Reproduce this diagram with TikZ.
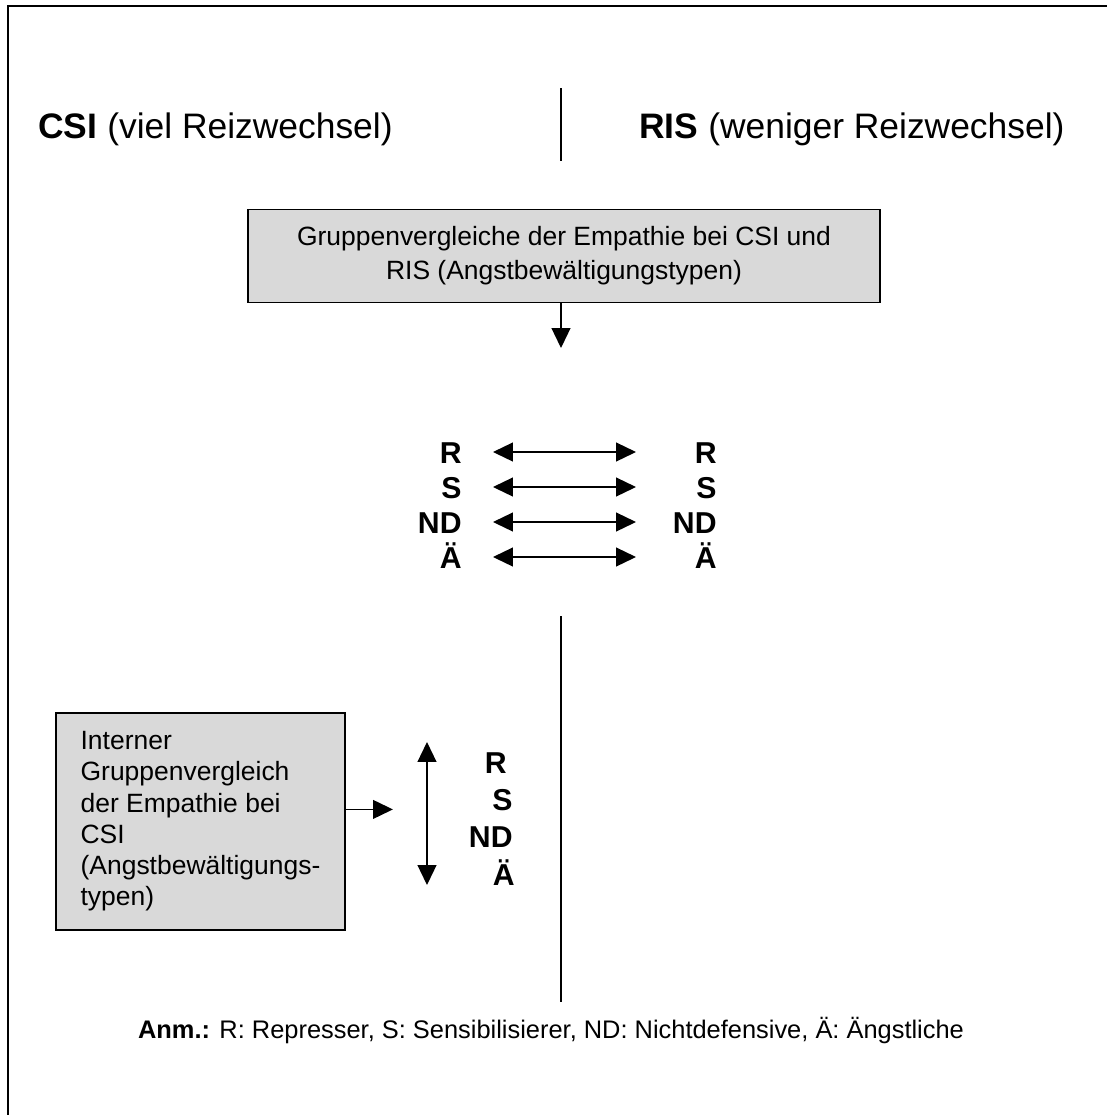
\documentclass[tikz,border=0pt]{standalone}
\usepackage{fontspec}
\setmainfont{Liberation Sans}
\usetikzlibrary{arrows.meta, calc}

\begin{document}
\begin{tikzpicture}[
  x=0.48pt, y=-0.48pt,
  greybox/.style={draw, line width=0.9pt, fill=black!15, font=\fontsize{12.7}{15}\selectfont},
  head/.style={anchor=base west, inner sep=0pt, font=\fontsize{17}{20}\selectfont},
  typ/.style={anchor=base east, inner sep=0pt, font=\fontsize{14.5}{17}\selectfont\bfseries},
  arrow/.style={-{Triangle[length=9.5pt, width=9pt]}, line width=0.7pt},
  twoway/.style={{Triangle[length=9.5pt, width=9pt]}-{Triangle[length=9.5pt, width=9pt]}, line width=0.7pt},
  divider/.style={line width=0.8pt}
]
\useasboundingbox (0,0) rectangle (1107,1115);

% Frame (only top and left edge inside the page)
\draw[line width=1pt] (8,1115) -- (8,6) -- (1107,6);

% Headings
\node[head] (csi) at (38,138) {\textbf{CSI} (viel Reizwechsel)};
\node[head] (ris) at (639,138) {\textbf{RIS} (weniger Reizwechsel)};
\coordinate (topA) at (561,88);
\coordinate (topB) at (561,161);
\draw[divider] (topA) -- (topB);

% Group comparison
\node[greybox, minimum width=303pt, minimum height=44.6pt, align=center,
  font=\fontsize{12.7}{16.2}\selectfont] (groups) at (564,256) {Gruppenvergleiche der Empathie bei CSI und\\RIS (Angstbewältigungstypen)};
\coordinate (drop) at (561,348);
\draw[arrow] (groups.south -| drop) -- (drop);

% Coping types, CSI vs. RIS
\foreach \t [count=\i] in {R,S,ND,\"A} {
  \node[typ] (csi\i) at (462,463+35*\i-35) {\t};
  \node[typ] (ris\i) at (717,463+35*\i-35) {\t};
  \draw[twoway] ($(csi\i.base east)+(31,-11)$) -- ($(ris\i.base east)+(-81,-11)$);
}

\coordinate (lowA) at (561,616);
\coordinate (lowB) at (561,1002);
\draw[divider] (lowA) -- (lowB);

% Internal comparison
\node[greybox, minimum width=138.7pt, minimum height=104.2pt, align=left] (intern) at (200.5,821.5) {Interner\\Gruppenvergleich\\der Empathie bei\\CSI\\(Angstbewältigungs-\\typen)};
\draw[arrow] ([yshift=5.8pt]intern.east) -- ++(47,0);

\node[typ] (int1) at (507,773) {R};
\node[typ] (int2) at (513,810) {S};
\node[typ] (int3) at (513,847) {ND};
\node[typ] (int4) at (515,885) {\"A};
\coordinate (spanA) at (427,742);
\coordinate (spanB) at (427,885);
\draw[twoway] (spanA) -- (spanB);

% Note
\node[font=\fontsize{12.2}{15}\selectfont] (note) at (551,1030) {\textbf{Anm.:} R: Represser, S: Sensibilisierer, ND: Nichtdefensive, Ä: Ängstliche};

\end{tikzpicture}
\end{document}
